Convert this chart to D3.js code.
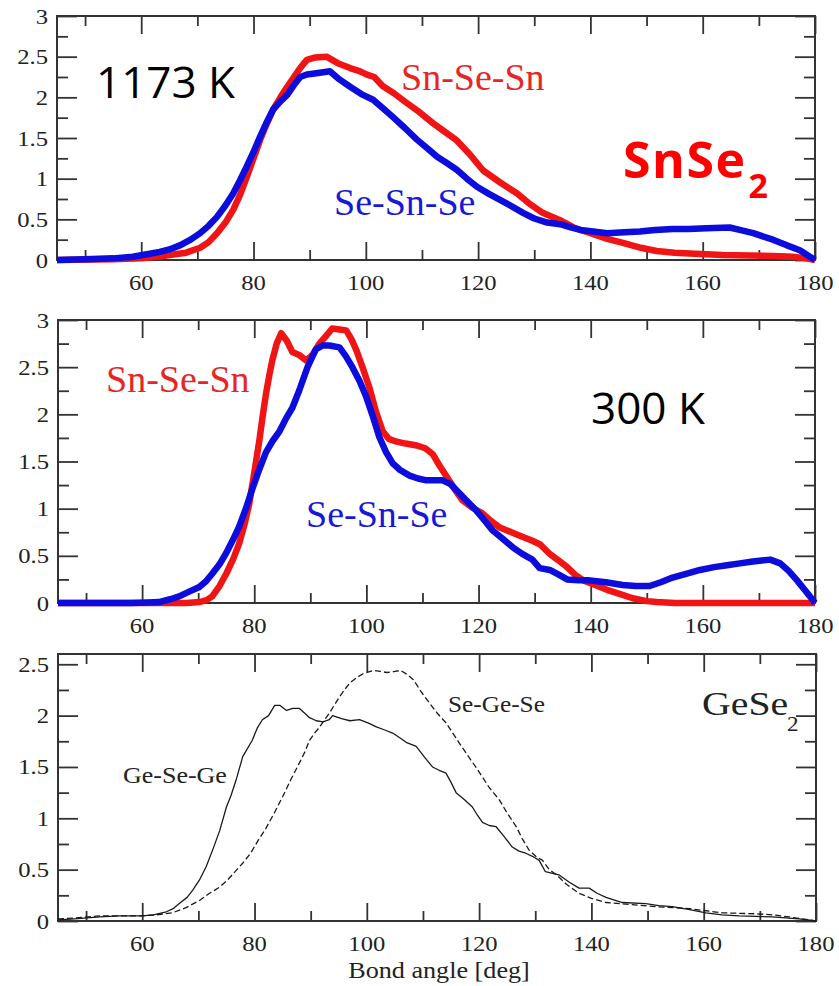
<!DOCTYPE html>
<html>
<head>
<meta charset="utf-8">
<script src="https://cdn.jsdelivr.net/npm/d3@7/dist/d3.min.js"></script>
<style>
  html, body { margin: 0; padding: 0; background: #fff; }
  svg { display: block; }
</style>
</head>
<body>
<svg id="chart" width="839" height="986"></svg>
<script>
// Bond-angle distributions: SnSe2 at 1173 K and 300 K, GeSe2 reference.
// Each series is a list of [angle (deg), distribution value].

const angleDomain = [45, 180];
const angleMajorTicks = [60, 80, 100, 120, 140, 160, 180];
const angleMinorTicks = [50, 70, 90, 110, 130, 150, 170];

const snseYTicks = [0, 0.5, 1, 1.5, 2, 2.5, 3];
const snseYMinor = [0.25, 0.75, 1.25, 1.75, 2.25, 2.75];
const geseYTicks = [0, 0.5, 1, 1.5, 2, 2.5];
const geseYMinor = [0.25, 0.75, 1.25, 1.75, 2.25];

// SnSe2, 1173 K
const hotSnSeSn = [[45,0],[55,0.01],[60,0.02],[63,0.04],[66,0.07],[68,0.09],[70.5,0.15],[72,0.22],[73.5,0.33],[75,0.46],[76.4,0.62],[77.6,0.8],[78.8,1.02],[80,1.25],[81.2,1.48],[82.4,1.68],[83.5,1.85],[84.8,2.0],[86,2.13],[87.2,2.25],[88.3,2.36],[89.5,2.46],[91,2.49],[93,2.5],[95,2.42],[97.2,2.36],[99,2.32],[100.2,2.28],[101.5,2.25],[103,2.14],[105,2.05],[107.3,1.93],[109.5,1.82],[112,1.68],[114,1.58],[116.2,1.47],[118.5,1.3],[120.9,1.1],[124,0.95],[126.9,0.82],[129,0.7],[131.5,0.58],[134.6,0.49],[137,0.4],[140,0.33],[143,0.26],[145.8,0.21],[149,0.15],[151.8,0.11],[155,0.09],[157.7,0.08],[163.6,0.06],[172.5,0.05],[176,0.04],[178.5,0.02],[180,0]];
const hotSeSnSe = [[45,0],[50,0.01],[55,0.02],[58.5,0.04],[61,0.07],[63.3,0.1],[65,0.13],[66.9,0.18],[68.8,0.25],[70.5,0.33],[72,0.42],[73.5,0.53],[75,0.67],[76.4,0.82],[77.6,0.98],[78.8,1.15],[80,1.33],[81.2,1.52],[82.4,1.7],[83.5,1.85],[84.8,1.95],[86,2.03],[87.2,2.15],[88.3,2.25],[89.5,2.28],[91.5,2.3],[93.6,2.32],[95.3,2.22],[97.2,2.13],[99.2,2.04],[101.3,1.97],[103,1.87],[104.8,1.76],[107,1.62],[109.1,1.48],[111,1.37],[112.7,1.27],[114.5,1.19],[116.2,1.11],[118,1.0],[119.8,0.9],[122,0.81],[123.9,0.74],[126,0.66],[128,0.58],[130,0.51],[132.3,0.46],[134.6,0.44],[136.5,0.4],[138.2,0.37],[140.5,0.35],[143,0.33],[146,0.34],[148.8,0.35],[151.5,0.37],[154.7,0.38],[157.5,0.38],[160.7,0.39],[164.8,0.4],[166.6,0.37],[169,0.33],[172.5,0.25],[175,0.18],[177.3,0.12],[180,0]];

// SnSe2, 300 K
const coldSnSeSn = [[45,0],[60,0],[68,0],[70.2,0.01],[71.5,0.03],[72.5,0.07],[73.8,0.18],[75,0.31],[76.2,0.46],[77.3,0.63],[78.2,0.82],[79.1,1.05],[80,1.38],[80.9,1.72],[81.5,1.98],[82.1,2.22],[82.7,2.42],[83.2,2.57],[84,2.75],[84.8,2.86],[85.8,2.78],[86.8,2.66],[88,2.63],[89.3,2.57],[90.5,2.64],[91.6,2.75],[92.8,2.83],[93.9,2.91],[95.2,2.9],[96.4,2.89],[97.3,2.8],[98.2,2.68],[99.3,2.5],[100.5,2.29],[101.7,2.03],[102.9,1.82],[104,1.74],[105.4,1.71],[107,1.69],[109,1.67],[110.5,1.64],[111.8,1.58],[113,1.46],[114.3,1.34],[115.7,1.21],[117.1,1.09],[118.9,1.01],[120.7,0.95],[122.2,0.87],[123.8,0.8],[126.7,0.73],[129.6,0.66],[131,0.62],[132.7,0.52],[134.3,0.45],[135.8,0.38],[137.2,0.3],[138.7,0.24],[140.8,0.19],[142.9,0.14],[145,0.1],[147.5,0.05],[150,0.02],[151.8,0.01],[155,0],[180,0]];
const coldSeSnSe = [[45,0],[58,0],[61,0.005],[63,0.01],[65,0.04],[66.6,0.07],[68.4,0.12],[70.2,0.17],[71.4,0.23],[72.5,0.31],[73.8,0.41],[75,0.53],[76.2,0.67],[77.3,0.81],[78.5,1.0],[79.6,1.2],[80.8,1.4],[82.1,1.6],[83.3,1.72],[84.5,1.82],[85.7,1.96],[86.8,2.07],[88,2.25],[89.5,2.5],[91,2.69],[92.2,2.73],[93.4,2.73],[95.2,2.71],[96.3,2.62],[97.5,2.5],[98.8,2.35],[100,2.18],[101.2,1.97],[102.3,1.76],[103.5,1.6],[104.7,1.48],[106,1.41],[107.7,1.35],[109.2,1.32],[110.7,1.3],[112,1.3],[113.6,1.3],[115,1.26],[116,1.2],[117.8,1.09],[119.6,0.98],[121,0.88],[122.5,0.77],[124.3,0.68],[126.1,0.59],[127.8,0.52],[129.6,0.46],[130.9,0.37],[132.7,0.35],[134.3,0.3],[135.8,0.25],[137.8,0.24],[139.8,0.24],[142.7,0.22],[145.7,0.19],[148,0.18],[150.5,0.18],[152.5,0.22],[154.6,0.27],[157,0.31],[159.5,0.35],[162,0.38],[164.3,0.4],[166.6,0.42],[168.9,0.44],[170.5,0.45],[172,0.46],[173.8,0.42],[175.3,0.34],[176.8,0.24],[178,0.15],[179.1,0.07],[180,0]];

// GeSe2
const geSeGe = [[45,0.01],[48,0.02],[52.4,0.04],[56,0.05],[60,0.05],[62,0.06],[64.3,0.09],[65.5,0.12],[66.6,0.17],[68,0.23],[69,0.3],[70.2,0.4],[71.4,0.53],[72.6,0.7],[73.8,0.88],[75,1.11],[75.8,1.22],[76.7,1.37],[77.9,1.6],[79.6,1.76],[80.5,1.88],[81.4,1.96],[82.5,2.0],[83.6,2.1],[84.5,2.1],[85.7,2.05],[86.8,2.07],[88,2.07],[89,2.02],[89.8,1.98],[91,1.95],[92.2,1.94],[93.3,1.96],[93.9,2.0],[95.5,1.97],[97,1.95],[98.7,1.96],[100.2,1.93],[101.7,1.89],[103.2,1.86],[104.6,1.83],[106,1.78],[107,1.74],[108.8,1.7],[110.2,1.6],[111.7,1.5],[112.8,1.47],[114.1,1.44],[115,1.35],[115.9,1.25],[117.4,1.18],[118.8,1.11],[119.7,1.03],[120.6,0.96],[121.8,0.93],[123,0.92],[124.5,0.82],[125.9,0.72],[127.1,0.68],[128.3,0.66],[129.5,0.63],[130.7,0.59],[131.8,0.48],[134.2,0.45],[136,0.38],[137.8,0.32],[139.6,0.32],[141,0.27],[142.6,0.23],[145.5,0.18],[149.7,0.17],[152,0.15],[154.4,0.14],[157.5,0.11],[160.4,0.08],[163.3,0.06],[166.3,0.05],[172.2,0.04],[177,0.02],[180,0]];
const seGeSe = [[45,0.02],[48,0.03],[52.4,0.05],[56,0.05],[60,0.05],[62.5,0.06],[65.4,0.08],[67.8,0.13],[70.2,0.2],[72,0.27],[73.8,0.33],[75.2,0.4],[76.7,0.49],[78,0.57],[79.3,0.66],[80.6,0.78],[82,0.9],[83.5,1.05],[85,1.21],[86.5,1.38],[88,1.54],[89,1.65],[89.8,1.76],[90.7,1.83],[91.6,1.89],[92.5,1.96],[93.4,2.03],[94.2,2.1],[95.1,2.18],[96,2.25],[97,2.32],[98.2,2.37],[99.4,2.41],[101.2,2.44],[102.4,2.43],[103.6,2.42],[105,2.43],[106,2.44],[107.2,2.4],[108.3,2.35],[109.7,2.23],[111.2,2.12],[112.6,2.02],[114.1,1.93],[115.3,1.83],[116.5,1.73],[118,1.61],[119.4,1.5],[120.6,1.4],[121.8,1.3],[122.7,1.24],[123.6,1.18],[125,1.05],[126.6,0.92],[127.7,0.8],[128.9,0.69],[130.1,0.63],[131.3,0.59],[132.5,0.5],[133.8,0.45],[135.5,0.36],[137.8,0.27],[140,0.22],[142.6,0.18],[145,0.17],[147.2,0.16],[151.5,0.14],[154.5,0.13],[157.4,0.12],[160.4,0.1],[163.3,0.08],[166.3,0.075],[169.3,0.07],[172.2,0.06],[175.2,0.04],[177.5,0.02],[179,0.01],[180,0]];

const RED = "#f01414", BLUE = "#0c0cdc";
const RED_TEXT = "#e62626", BLUE_TEXT = "#1818d6";
const INK = "#222";
const SERIF = "Liberation Serif";
const SANS = "Open Sans";

const svg = d3.select("#chart");

// Text drawn with a horizontal stretch (xmgrace-style labels)
function stretchedText(g, x, y, str, size, sx, anchor, color, family) {
  return g.append("text")
    .attr("transform", `translate(${x},${y}) scale(${sx},1)`)
    .attr("text-anchor", anchor || "start")
    .style("font-family", family || SERIF)
    .style("font-size", size + "px")
    .attr("fill", color || INK)
    .text(str);
}

function drawPanel(cfg) {
  const x = d3.scaleLinear().domain(angleDomain).range([cfg.left, cfg.right]);
  const y = d3.scaleLinear().domain([0, cfg.yMax]).range([cfg.bottom, cfg.top]);
  const g = svg.append("g");
  const axisStroke = "#333";
  const MAJ = 18, MIN = 10, SX = 1.12, FS = 22;

  function styleAxis(sel) {
    sel.select(".domain").remove();
    sel.selectAll("text").remove();
    sel.selectAll("line").attr("stroke", axisStroke).attr("stroke-width", 1.8);
  }

  // inward ticks on all four sides, long at majors, short at minors
  const sides = [
    [d3.axisBottom(x), `translate(0,${cfg.bottom})`, angleMajorTicks, angleMinorTicks, 0],
    [d3.axisTop(x), `translate(0,${cfg.top})`, angleMajorTicks, angleMinorTicks, 0],
    [d3.axisLeft(y), `translate(${cfg.left},0)`, cfg.yTicks, cfg.yMinor, 2],
    [d3.axisRight(y), `translate(${cfg.right},0)`, cfg.yTicks, cfg.yMinor, 2]
  ];
  sides.forEach(([axis, tr, major, minor, extra]) => {
    g.append("g").attr("transform", tr)
      .call(axis.tickValues(major).tickSizeInner(-MAJ - extra).tickSizeOuter(0).tickFormat(""))
      .call(styleAxis);
    g.append("g").attr("transform", tr)
      .call(axis.tickValues(minor).tickSizeInner(-MIN - extra / 2).tickSizeOuter(0).tickFormat(""))
      .call(styleAxis);
  });

  // tick labels
  const fmt = d3.format("");
  angleMajorTicks.forEach(v => stretchedText(g, x(v), cfg.bottom + 30, fmt(v), FS, SX, "middle"));
  cfg.yTicks.forEach(v => stretchedText(g, cfg.left - 9, y(v) + 7.5, fmt(v), FS, SX, "end"));

  // frame
  g.append("rect")
    .attr("x", cfg.left).attr("y", cfg.top)
    .attr("width", cfg.right - cfg.left).attr("height", cfg.bottom - cfg.top)
    .attr("fill", "none").attr("stroke", axisStroke).attr("stroke-width", 2);

  const line = d3.line().x(d => x(d[0])).y(d => y(d[1])).curve(d3.curveLinear);
  cfg.series.forEach(s => {
    g.append("path")
      .datum(s.data)
      .attr("d", line)
      .attr("fill", "none")
      .attr("stroke", s.color)
      .attr("stroke-width", s.width)
      .attr("stroke-linejoin", "round")
      .attr("stroke-linecap", "butt")
      .attr("stroke-dasharray", s.dash || null);
  });
  return g;
}

// Panel 1: SnSe2 at 1173 K
const p1 = drawPanel({
  left: 57, right: 815, top: 16, bottom: 260, yMax: 3,
  yTicks: snseYTicks, yMinor: snseYMinor,
  series: [
    { data: hotSnSeSn, color: RED, width: 6.5 },
    { data: hotSeSnSe, color: BLUE, width: 6.5 }
  ]
});
stretchedText(p1, 96, 98, "1173 K", 44, 1, "start", "#000", SANS);
stretchedText(p1, 401, 90, "Sn-Se-Sn", 38, 1, "start", RED_TEXT);
stretchedText(p1, 334, 215, "Se-Sn-Se", 38, 1, "start", BLUE_TEXT);
const snse2 = p1.append("text").attr("x", 623).attr("y", 178)
  .style("font-family", SANS).style("font-weight", "bold").style("font-size", "50px")
  .attr("letter-spacing", 1.5).attr("fill", "#ff0000");
snse2.append("tspan").text("SnSe");
snse2.append("tspan").attr("dy", 20).attr("dx", 2).style("font-size", "34px").text("2");

// Panel 2: SnSe2 at 300 K
const p2 = drawPanel({
  left: 58, right: 815, top: 320, bottom: 603, yMax: 3,
  yTicks: snseYTicks, yMinor: snseYMinor,
  series: [
    { data: coldSnSeSn, color: RED, width: 6.5 },
    { data: coldSeSnSe, color: BLUE, width: 6.5 }
  ]
});
stretchedText(p2, 591, 424, "300 K", 44, 1, "start", "#000", SANS);
stretchedText(p2, 106, 392, "Sn-Se-Sn", 38, 1, "start", RED_TEXT);
stretchedText(p2, 306, 527, "Se-Sn-Se", 38, 1, "start", BLUE_TEXT);

// Panel 3: GeSe2
const p3 = drawPanel({
  left: 58, right: 816, top: 654, bottom: 921, yMax: 2.6,
  yTicks: geseYTicks, yMinor: geseYMinor,
  series: [
    { data: geSeGe, color: "#1a1a1a", width: 1.3 },
    { data: seGeSe, color: "#1a1a1a", width: 1.3, dash: "6,3" }
  ]
});
stretchedText(p3, 123, 783, "Ge-Se-Ge", 23, 1.13, "start");
stretchedText(p3, 448, 712, "Se-Ge-Se", 23, 1.1, "start");
stretchedText(p3, 702, 715, "GeSe", 34, 1.17, "start");
stretchedText(p3, 787, 731, "2", 21, 1.1, "start");
stretchedText(p3, 439, 978, "Bond angle [deg]", 24, 1.09, "middle");
</script>
</body>
</html>
